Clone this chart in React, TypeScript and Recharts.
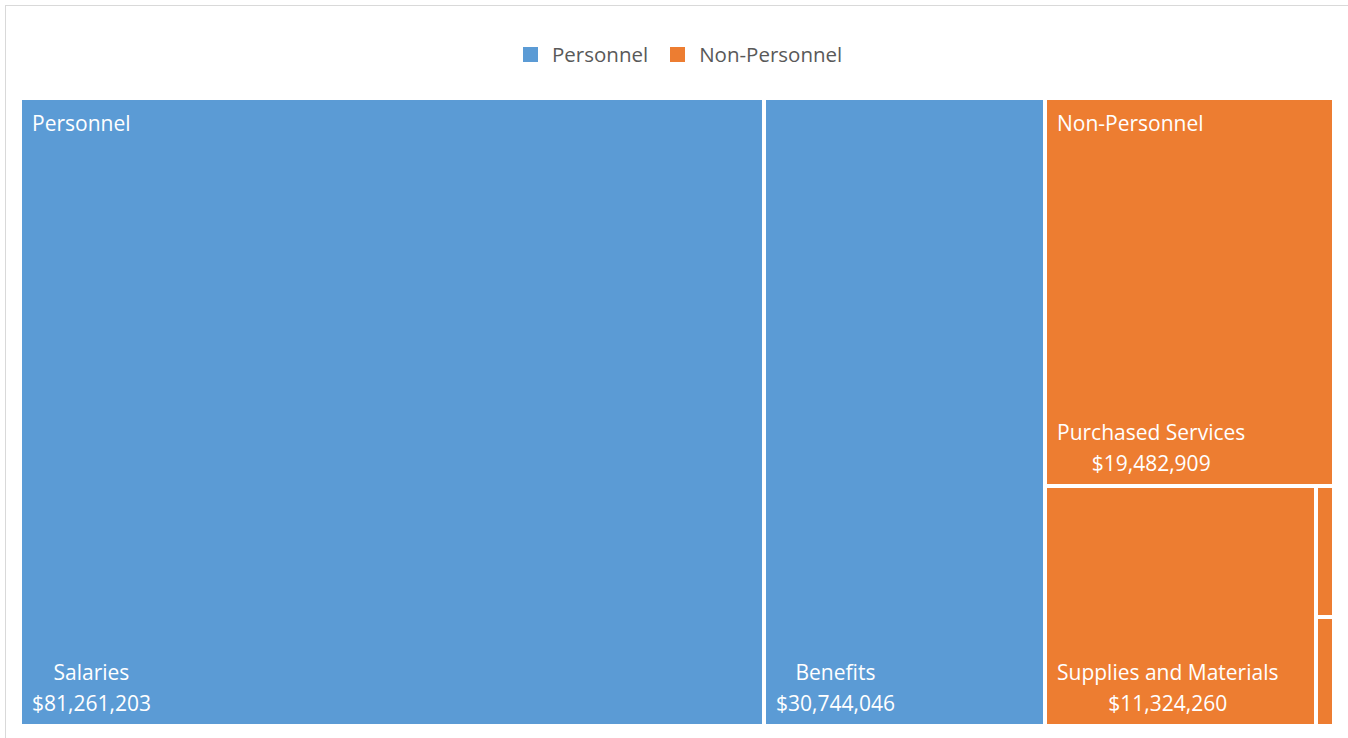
import { Treemap } from "recharts"

const groups = ["Personnel", "Non-Personnel"]
const groupColors = ["#5B9BD5", "#ED7D31"]

const personnelItems = ["Salaries", "Benefits"]
const personnelValues = [81261203, 30744046]

const nonPersonnelItems = ["Purchased Services", "Supplies and Materials", "Capital Outlay", "Other"]
const nonPersonnelValues = [19482909, 11324260, 410000, 340000]

const itemsByGroup = [personnelItems, nonPersonnelItems]
const valuesByGroup = [personnelValues, nonPersonnelValues]

const data = groups.map((g, gi) => ({
  name: g,
  children: itemsByGroup[gi].map((n, i) => ({ name: n, size: valuesByGroup[gi][i] })),
}))

const FONT = "21px 'Open Sans'"
const FONT_FAMILY = "'Open Sans', sans-serif"

let ctx: CanvasRenderingContext2D | null = null
const textWidth = (t: string) => {
  if (!ctx) {
    ctx = document.createElement("canvas").getContext("2d")
  }
  if (!ctx) return t.length * 11
  ctx.font = FONT
  return ctx.measureText(t).width
}

const groupOf = (name: string) => itemsByGroup.findIndex((items) => items.includes(name))

const CellContent = (props: any) => {
  const { x, y, width, height, depth, name, value } = props
  if (depth !== 2) return <g />
  const gi = groupOf(name)
  const isFirst = gi >= 0 && itemsByGroup[gi][0] === name
  const label = name
  const amount = "$" + Number(value).toLocaleString("en-US")
  const showText = width > 80 && height > 80
  const blockW = Math.max(textWidth(label), textWidth(amount))
  const cx = x + 12 + blockW / 2
  const txt = { fill: "#fff", stroke: "none", fontSize: 21, fontFamily: FONT_FAMILY, fontWeight: 400 }
  return (
    <g>
      <rect x={x} y={y} width={width} height={height} fill={groupColors[gi]} stroke="#fff" strokeWidth={4} />
      {isFirst && (
        <text x={x + 12} y={y + 33} {...txt}>
          {groups[gi]}
        </text>
      )}
      {showText && (
        <>
          <text x={cx} y={y + height - 46} textAnchor="middle" {...txt}>
            {label}
          </text>
          <text x={cx} y={y + height - 15} textAnchor="middle" {...txt}>
            {amount}
          </text>
        </>
      )}
    </g>
  )
}

export default function App() {
  return (
    <div
      style={{
        position: "fixed",
        left: 5,
        top: 5,
        width: 1400,
        height: 800,
        border: "1px solid #D9D9D9",
        background: "#fff",
        fontFamily: FONT_FAMILY,
      }}
    >
      <div style={{ position: "absolute", left: 517, top: 34, display: "flex", alignItems: "center", color: "#595959", fontSize: 20.5 }}>
        {groups.map((g, i) => (
          <div key={g} style={{ display: "flex", alignItems: "center", marginRight: 22 }}>
            <span style={{ width: 15, height: 15, background: groupColors[i], display: "inline-block", marginRight: 14 }} />
            <span>{g}</span>
          </div>
        ))}
      </div>
      <div style={{ position: "absolute", left: 14, top: 92 }}>
        <Treemap
          width={1314}
          height={628}
          data={data}
          dataKey="size"
          nameKey="name"
          stroke="#fff"
          isAnimationActive={false}
          content={<CellContent />}
        />
      </div>
    </div>
  )
}
